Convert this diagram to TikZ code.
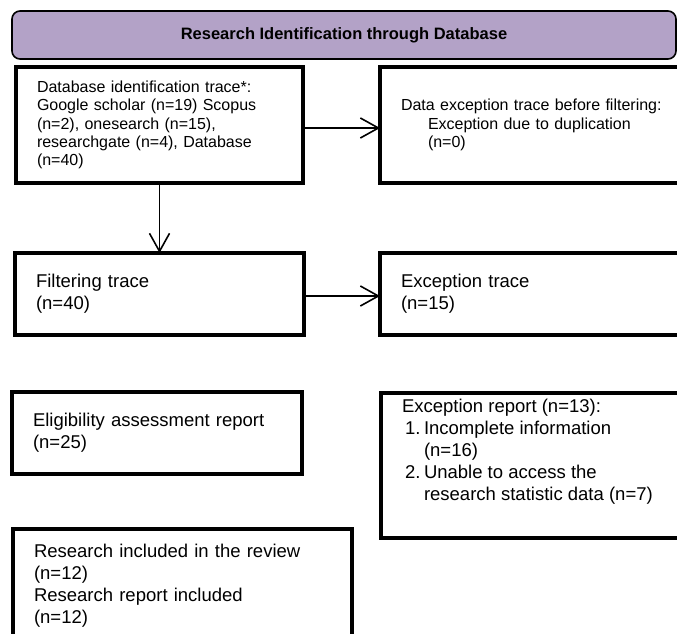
\documentclass[tikz,border=0pt]{standalone}
\usepackage{fontspec}
\setmainfont{Liberation Sans}
\usetikzlibrary{arrows.meta}
\definecolor{hdrpurple}{HTML}{B3A2C7}
\begin{document}
\begin{tikzpicture}[x=1pt,y=-1pt,
  box/.style={draw=black, line width=3.3pt, fill=white, anchor=north west, outer sep=0pt, inner xsep=21pt, inner ysep=0pt, align=left},
  smalltext/.style={font=\fontsize{16}{18.3}\selectfont},
  bigtext/.style={font=\fontsize{18.5}{22}\selectfont},
  link/.style={draw=black, line width=1.6pt, -{Straight Barb[length=18pt,width=20pt]}},
  header/.style={draw=black, line width=1.6pt, fill=hdrpurple, rounded corners=8pt, anchor=north west, outer sep=0pt, font=\bfseries\fontsize{16.5}{20}\selectfont}
]
\useasboundingbox (0,0) rectangle (677,634);
\clip (0,0) rectangle (677,634);
\fill[white] (0,0) rectangle (677,634);

\node[header, minimum width=664pt, minimum height=48pt] (head) at (12,11) {Research Identification through Database};

\node[box, smalltext, minimum width=287pt, minimum height=116pt, text width=245pt] (ident) at (16,67)
  {Database identification trace*:\\Google scholar (n=19) Scopus\\(n=2), onesearch (n=15),\\researchgate (n=4), Database\\(n=40)};

\node[box, smalltext, minimum width=310pt, minimum height=116pt, text width=268pt] (dup) at (380,67)
  {Data exception trace before filtering:\\\hspace*{27pt}Exception due to duplication\\\hspace*{27pt}(n=0)};

\node[box, bigtext, minimum width=289pt, minimum height=82pt, text width=247pt] (filt) at (15,253)
  {Filtering trace\\(n=40)};

\node[box, bigtext, minimum width=310pt, minimum height=82pt, text width=268pt] (exc) at (380,253)
  {Exception trace\\(n=15)};

\node[box, bigtext, inner xsep=21pt, minimum width=290pt, minimum height=82pt, text width=248pt] (elig) at (12,392)
  {Eligibility assessment report\\(n=25)};

\node[box, bigtext, inner ysep=6.5pt, minimum width=310pt, minimum height=145pt] (rep) at (381,393)
  {\parbox[c][132pt][t]{268pt}{Exception report (n=13):\\
   \makebox[22pt][l]{\hspace*{3pt}1.}Incomplete information\\
   \hspace*{22pt}(n=16)\\
   \makebox[22pt][l]{\hspace*{3pt}2.}Unable to access the\\
   \hspace*{22pt}research statistic data (n=7)}};

\node[box, bigtext, minimum width=339pt, minimum height=113pt, text width=297pt] (incl) at (13,529)
  {Research included in the review\\(n=12)\\Research report included\\(n=12)};

\draw[link] ([yshift=-3pt]ident.east) -- ([yshift=-3pt]dup.west);
\draw[link] (ident.south) -- (ident.south |- filt.north);
\draw[link] ([yshift=-2pt]filt.east) -- ([yshift=-2pt]exc.west);
\end{tikzpicture}
\end{document}
